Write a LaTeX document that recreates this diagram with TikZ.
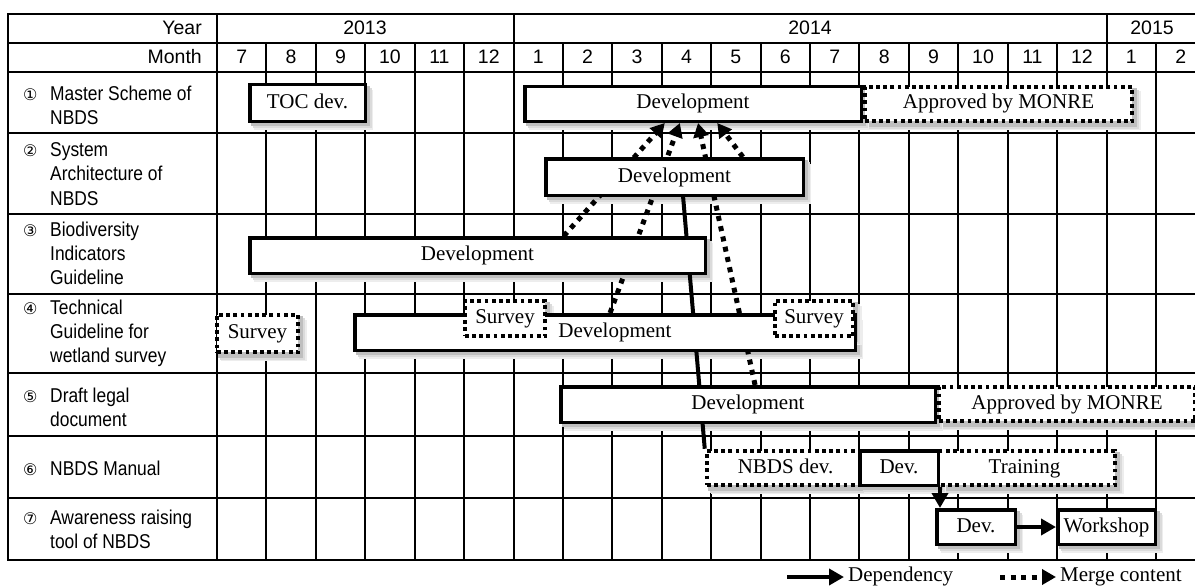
\documentclass[tikz,border=0pt]{standalone}
\usepackage{fontspec}
\usetikzlibrary{arrows.meta,calc}
\newfontfamily\barfont{Liberation Serif}
\newfontfamily\labfont[FakeStretch=0.87]{Liberation Sans}
\newfontfamily\hdrfont{Liberation Sans}
\newfontfamily\numfont{DejaVu Sans}
\pgfdeclarelayer{shade}
\pgfdeclarelayer{conn}
\pgfsetlayers{shade,conn,main}
\begin{document}
\begin{tikzpicture}[x=1pt,y=-1pt,
  grid/.style={line width=2pt},
  hdr/.style={inner sep=0pt, font={\hdrfont\fontsize{19.5}{24}\selectfont}},
  lab/.style={inner sep=0pt, anchor=base west, font={\labfont\fontsize{20}{24}\selectfont}},
  num/.style={inner sep=0pt, anchor=base west, font={\numfont\fontsize{16}{18}\selectfont}},
  solidbar/.style={draw, line width=3.5pt, fill=white, inner sep=0pt,
    text height=14.5pt, text depth=4.5pt,
    font={\barfont\fontsize{21}{24}\selectfont}},
  dotbar/.style={solidbar, line width=4pt, dash pattern=on 3.8pt off 3.4pt},
  bartext/.style={inner sep=0pt, text height=14.5pt, text depth=4.5pt,
    font={\barfont\fontsize{21}{24}\selectfont}},
  shadeA/.style={fill=black!7},
  shadeB/.style={fill=black!14},
  shadeC/.style={fill=black!25},
  deps/.style={line width=4pt},
  deparrow/.style={line width=4.5pt, -{Triangle[length=15pt,width=16pt]}},
  merge/.style={line width=5pt, dash pattern=on 5pt off 5.5pt, -{Triangle[length=14pt,width=15pt]}},
  legtext/.style={inner sep=0pt, anchor=base west, font={\barfont\fontsize{21}{24}\selectfont}}]
\useasboundingbox (0,0) rectangle (1195,586);

% ---------- table grid ----------
\begin{pgfonlayer}{shade}
  \draw[grid] (8,14) rectangle (1210,560);
  \foreach \y in {43,72,133,214,294,373,436,498}
    \draw[grid] (8,\y) -- (1210,\y);
  \draw[grid] (217,14) -- (217,560);
  \foreach \i in {1,...,19}
    \draw[grid] ({217+49.42*\i},43) -- ({217+49.42*\i},560);
  \draw[grid] ({217+49.42*6},14) -- ({217+49.42*6},43);
  \draw[grid] ({217+49.42*18},14) -- ({217+49.42*18},43);
\end{pgfonlayer}

% ---------- header ----------
\node[hdr, anchor=base east] (year) at (202,35) {Year};
\node[hdr, anchor=base east] (month) at (202,64) {Month};
\node[hdr, anchor=base] (y2013) at (365,35) {2013};
\node[hdr, anchor=base] (y2014) at (810,35) {2014};
\node[hdr, anchor=base] (y2015) at (1152,35) {2015};
\foreach \m [count=\i from 0] in {7,8,9,10,11,12,1,2,3,4,5,6,7,8,9,10,11,12,1,2}
  \node[hdr, anchor=base] (m\i) at ({217+49.42*(\i+0.5)},64) {\m};

% ---------- row labels ----------
\node[num] (n1) at (23,101) {①};
\node[lab] (lab1) at (50,101) {\parbox[t]{165pt}{\raggedright Master Scheme of\\NBDS}};
\node[num] (n2) at (23,157) {②};
\node[lab] (lab2) at (50,157) {\parbox[t]{165pt}{\raggedright System\\Architecture of\\NBDS}};
\node[num] (n3) at (23,236) {③};
\node[lab] (lab3) at (50,236) {\parbox[t]{165pt}{\raggedright Biodiversity\\Indicators\\Guideline}};
\node[num] (n4) at (23,314.5) {④};
\node[lab] (lab4) at (50,314.5) {\parbox[t]{165pt}{\raggedright Technical\\Guideline for\\wetland survey}};
\node[num] (n5) at (23,402) {⑤};
\node[lab] (lab5) at (50,402) {\parbox[t]{165pt}{\raggedright Draft legal\\document}};
\node[num] (n6) at (23,475) {⑥};
\node[lab] (lab6) at (50,475) {NBDS Manual};
\node[num] (n7) at (23,524) {⑦};
\node[lab] (lab7) at (50,524) {\parbox[t]{165pt}{\raggedright Awareness raising\\tool of NBDS}};

% ---------- bars ----------
% row 1
\node[dotbar, minimum width=267.5pt, minimum height=34.5pt] (appr1) at (998.5,104) {Approved by MONRE};
\node[solidbar, minimum width=115.5pt, minimum height=36.5pt] (toc) at (307.5,103) {TOC dev.};
\node[solidbar, minimum width=336.5pt, minimum height=34.5pt] (dev1) at (693,104) {Development};
% row 2
\node[solidbar, minimum width=257.5pt, minimum height=36.5pt] (dev2) at (674.5,177) {Development};
% row 3
\node[solidbar, minimum width=455.5pt, minimum height=35.5pt] (dev3) at (477.5,255.5) {Development};
% row 4
\node[dotbar, minimum width=81.5pt, minimum height=37.5pt] (surA) at (257.5,333.5) {Survey};
\node[solidbar, minimum width=500.5pt, minimum height=35.5pt] (dev4) at (605,332.5) {};
\node[dotbar, minimum width=80.5pt, minimum height=35.5pt] (surB) at (505,318.5) {Survey};
\node[dotbar, minimum width=78.5pt, minimum height=35.5pt] (surC) at (814,318.5) {Survey};
\node[bartext] (dev4t) at (615,332.5) {Development};
% row 5
\node[dotbar, minimum width=256.5pt, minimum height=34.5pt] (appr5) at (1067,404) {Approved by MONRE};
\node[solidbar, minimum width=374.5pt, minimum height=35.5pt] (dev5) at (748,404.5) {Development};
% row 6
\node[dotbar, minimum width=157.5pt, minimum height=34.5pt] (nbds) at (785.5,468) {NBDS dev.};
\node[dotbar, minimum width=181.5pt, minimum height=34.5pt] (train) at (1024.5,468) {Training};
\node[solidbar, minimum width=78.5pt, minimum height=34.5pt] (dev6) at (899,468) {Dev.};
% row 7
\node[solidbar, minimum width=78.5pt, minimum height=34.5pt] (dev7) at (976,527) {Dev.};
\node[solidbar, minimum width=97.5pt, minimum height=34.5pt] (work) at (1106.5,527) {Workshop};

% ---------- soft shadows under the bars ----------
\begin{pgfonlayer}{shade}
  \foreach \bx in {appr1,toc,dev1,dev2,dev3,surA,dev4,surB,surC,appr5,dev5,nbds,train,dev6,dev7,work} {
    \fill[shadeA] ([xshift=6.25pt,yshift=-6.75pt]\bx.north west) rectangle ([xshift=6.25pt,yshift=-6.75pt]\bx.south east);
    \fill[shadeB] ([xshift=4.75pt,yshift=-5.25pt]\bx.north west) rectangle ([xshift=4.75pt,yshift=-5.25pt]\bx.south east);
    \fill[shadeC] ([xshift=2.75pt,yshift=-3.25pt]\bx.north west) rectangle ([xshift=2.75pt,yshift=-3.25pt]\bx.south east);
  }
\end{pgfonlayer}

% ---------- connectors (behind the bars) ----------
\begin{pgfonlayer}{conn}
  \draw[merge] ($(dev3.north west)!0.688!(dev3.north east)$) -- ($(dev1.south west)!0.417!(dev1.south east)$);
  \draw[merge] ($(dev4.north west)!0.51!(dev4.north east)$) -- ($(dev1.south west)!0.4614!(dev1.south east)$);
  \draw[merge] ($(dev5.north west)!0.5187!(dev5.north east)$) -- ($(dev1.south west)!0.5149!(dev1.south east)$);
  \draw[merge] ($(dev2.north west)!0.762!(dev2.north east)$) -- ($(dev1.south west)!0.5713!(dev1.south east)$);
  \draw[deps] ($(dev2.south west)!0.533!(dev2.south east)$) -- (nbds.north west);
  \draw[deparrow] (dev6.south east) -- (dev6.south east |- dev7.north);
  \draw[deparrow] (dev7.east) -- (work.west);
\end{pgfonlayer}

% ---------- legend ----------
\coordinate (depA) at (787,577);
\coordinate (depB) at (844,577);
\draw[deparrow] (depA) -- (depB);
\node[legtext] (deplab) at (848,581) {Dependency};
\coordinate (merA) at (1000,577);
\coordinate (merB) at (1056,577);
\draw[merge] (merA) -- (merB);
\node[legtext] (merlab) at (1060,581) {Merge content};
\end{tikzpicture}
\end{document}
